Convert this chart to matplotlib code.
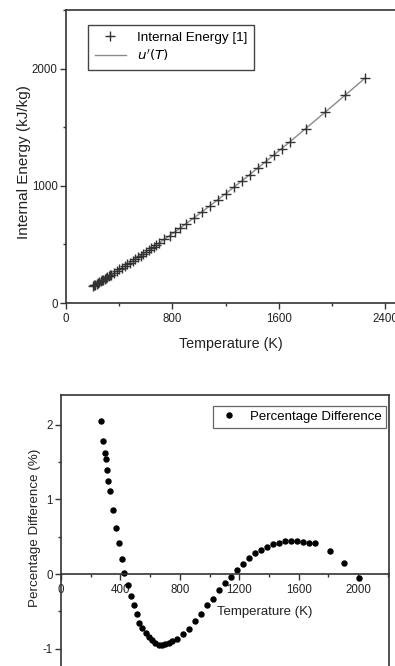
import numpy as np
import matplotlib
matplotlib.use("Agg")
import matplotlib.pyplot as plt
from matplotlib.ticker import MultipleLocator

plt.rcParams['font.family'] = ['Liberation Sans', 'DejaVu Sans']
plt.rcParams['axes.unicode_minus'] = False

# top panel: internal energy vs temperature
temp_ref = [200, 210, 220, 230, 240, 250, 260, 270, 280, 290, 300, 310, 320, 330,
            340, 360, 380, 400, 420, 440, 460, 480, 500, 520, 540, 560, 580, 600,
            620, 640, 660, 680, 700, 740, 780, 820, 860, 900, 960, 1020, 1080, 1140,
            1200, 1260, 1320, 1380, 1440, 1500, 1560, 1620, 1680, 1800, 1950, 2100, 2250]
u_ref = [142.6, 149.7, 156.8, 164.0, 171.1, 178.3, 185.5, 192.6, 199.8, 206.9, 214.1,
         221.3, 228.4, 235.6, 242.8, 257.2, 271.7, 286.2, 300.7, 315.3, 330.0, 344.7,
         359.5, 374.4, 389.3, 404.4, 419.6, 434.8, 450.1, 465.5, 481.0, 496.6, 512.3,
         544.0, 576.1, 608.6, 641.4, 674.6, 725.0, 776.1, 827.9, 880.4, 933.3, 986.9,
         1040.9, 1095.3, 1150.1, 1205.4, 1261.0, 1317.0, 1373.2, 1487.2, 1630.6,
         1775.3, 1921.3]

# bottom panel: percentage difference
temp_pd = [270, 281, 293, 302, 310, 319, 330, 348, 368, 388, 410, 426, 449, 471, 492,
           510, 527, 548, 570, 593, 613, 635, 658, 680, 702, 725, 747, 781, 822, 862,
           902, 943, 983, 1024, 1064, 1104, 1143, 1183, 1224, 1264, 1305, 1345, 1385,
           1426, 1466, 1506, 1547, 1587, 1627, 1668, 1708, 1811, 1908, 2009]
pct_diff = [2.05, 1.79, 1.62, 1.54, 1.40, 1.25, 1.11, 0.86, 0.62, 0.41, 0.20, 0.02,
            -0.14, -0.29, -0.42, -0.54, -0.65, -0.72, -0.79, -0.85, -0.89, -0.93,
            -0.95, -0.955, -0.94, -0.93, -0.90, -0.87, -0.80, -0.73, -0.63, -0.54,
            -0.42, -0.33, -0.21, -0.12, -0.04, 0.05, 0.13, 0.21, 0.28, 0.32, 0.36,
            0.40, 0.42, 0.44, 0.44, 0.44, 0.43, 0.41, 0.42, 0.31, 0.15, -0.05]

ink = '#222222'
fig = plt.figure(figsize=(3.95, 6.66), dpi=100)


def style_axes(ax):
    for sp in ax.spines.values():
        sp.set_color('#333333')
        sp.set_linewidth(1.2)
    ax.tick_params(which='major', direction='out', length=4.5, width=1,
                   pad=1.5, labelsize=8.3, colors='#333333', labelcolor=ink)
    ax.tick_params(which='minor', direction='out', length=2.2, width=1,
                   colors='#333333')


# 1. TOP PANEL
ax1 = fig.add_axes([0.1671, 0.545, 0.8354, 0.440])
ax1.plot(temp_ref, u_ref, color='#8a8a8a', lw=1.0, label="$u'(T)$", zorder=2)
ax1.plot(temp_ref, u_ref, ls='none', marker='+', ms=6.5, mew=1.0,
         color='#333333', label='Internal Energy [1]', zorder=3)
ax1.set_xlim(0, 2480)
ax1.set_ylim(0, 2500)
ax1.xaxis.set_major_locator(MultipleLocator(800))
ax1.xaxis.set_minor_locator(MultipleLocator(400))
ax1.yaxis.set_major_locator(MultipleLocator(1000))
ax1.yaxis.set_minor_locator(MultipleLocator(500))
style_axes(ax1)
ax1.tick_params(axis='x', which='major', pad=3)
ax1.set_xlabel('Temperature (K)', fontsize=10.3, color=ink, labelpad=8)
ax1.set_ylabel('Internal Energy (kJ/kg)', fontsize=11, color=ink)
ax1.yaxis.set_label_coords(-0.105, 0.48)

h, l = ax1.get_legend_handles_labels()
leg1 = ax1.legend([h[1], h[0]], [l[1], l[0]], loc='upper left',
                  bbox_to_anchor=(0.067, 0.949), borderaxespad=0,
                  fontsize=9.7, frameon=True, fancybox=False, framealpha=1,
                  edgecolor='#444444', handlelength=2.3, borderpad=0.5,
                  labelspacing=0.25)
leg1.get_frame().set_linewidth(1.0)

# 2. BOTTOM PANEL
ax2 = fig.add_axes([0.1544, -0.030, 0.8304, 0.4369])
ax2.plot(temp_pd, pct_diff, ls='none', marker='o', ms=3.6, color='black',
         label='Percentage Difference')
ax2.set_xlim(0, 2208)
ax2.set_ylim(-1.5, 2.4)
ax2.spines['bottom'].set_position(('data', 0))
ax2.xaxis.set_major_locator(MultipleLocator(400))
ax2.xaxis.set_minor_locator(MultipleLocator(200))
ax2.yaxis.set_major_locator(MultipleLocator(1))
ax2.yaxis.set_minor_locator(MultipleLocator(0.5))
style_axes(ax2)
ax2.tick_params(axis='x', which='major', pad=3)
ax2.set_xlabel('Temperature (K)', fontsize=9.5, color=ink)
ax2.xaxis.set_label_coords(0.622, 0.276)
ax2.set_ylabel('Percentage Difference (%)', fontsize=9.6, color=ink)
ax2.yaxis.set_label_coords(-0.06, 0.543)

leg2 = ax2.legend(loc='upper right', bbox_to_anchor=(0.991, 0.962),
                  borderaxespad=0, fontsize=9.5, frameon=True, fancybox=False,
                  framealpha=1, edgecolor='#666666', handlelength=1.6,
                  borderpad=0.35)
leg2.get_frame().set_linewidth(0.9)

fig.savefig('out.png', dpi=100)
